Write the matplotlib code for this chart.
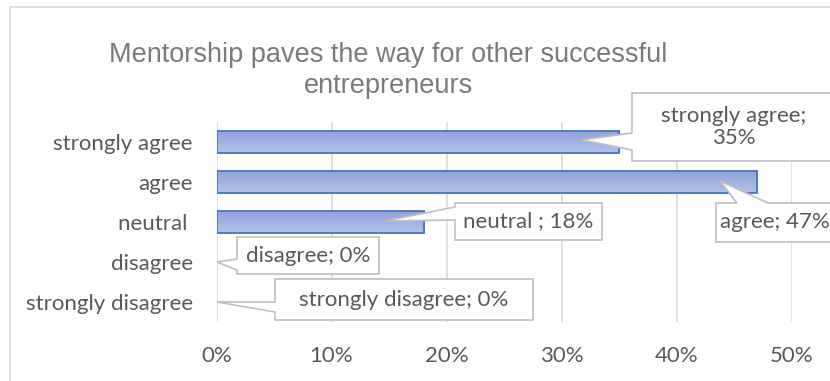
import matplotlib
matplotlib.use("Agg")
import matplotlib.pyplot as plt
import numpy as np
from matplotlib.patches import Polygon, Rectangle
from matplotlib.colors import LinearSegmentedColormap

# ---- data -------------------------------------------------------------
categories = ["strongly agree", "agree", "neutral ", "disagree", "strongly disagree"]
shares = [0.35, 0.47, 0.18, 0.0, 0.0]
x_ticks = [0.0, 0.1, 0.2, 0.3, 0.4, 0.5]
tick_labels = ["0%", "10%", "20%", "30%", "40%", "50%"]
title_lines = ["Mentorship paves the way for other successful", "entrepreneurs"]

# ---- canvas (pixel helpers, origin top-left) --------------------------
W, H, DPI = 830, 381, 100
fig = plt.figure(figsize=(W / DPI, H / DPI), dpi=DPI)
fig.patch.set_facecolor("white")


def fx(x):
    return x / W


def fy(y):
    return 1 - y / H


LABEL_FONT = "Lato"
TEXT_COLOR = "#595959"

# chart frame
fig.add_artist(Rectangle((fx(9.5), -0.5), 2, fy(6.5) + 0.5, fill=False,
                         ec="#d9d9d9", lw=1.2, transform=fig.transFigure))

# plot area
PL, PT, PR, PB = 216.5, 122, 791.5, 322
ax = fig.add_axes([fx(PL), fy(PB), (PR - PL) / W, (PB - PT) / H])

ypos = np.arange(len(categories))
bars = ax.barh(ypos, shares, height=0.53, facecolor="none",
               edgecolor="#4472c4", linewidth=1.3, zorder=3)

# soft vertical gradient inside each bar: lighter at the top edge
grad_cmap = LinearSegmentedColormap.from_list("bar_fill", ["#b3c2e8", "#8ea3d9"])
grad = np.linspace(0, 1, 64).reshape(-1, 1)
for bar, v in zip(bars, shares):
    if v <= 0:
        bar.set_edgecolor("none")
        continue
    x0, y0 = bar.get_x(), bar.get_y()
    w, h = bar.get_width(), bar.get_height()
    im = ax.imshow(grad, cmap=grad_cmap, extent=(x0, x0 + w, y0 + h, y0),
                   origin="lower", aspect="auto", interpolation="bilinear",
                   zorder=2)
    im.set_clip_path(bar)

ax.set_xlim(0, 0.5)
ax.set_ylim(len(categories) - 0.5, -0.5)
ax.set_xticks(x_ticks)
ax.set_xticklabels(tick_labels)
ax.set_yticks(ypos)
ax.set_yticklabels(categories)
ax.grid(axis="x", color="#d9d9d9", linewidth=1.1)
ax.set_axisbelow(True)
for s in ax.spines.values():
    s.set_visible(False)
ax.tick_params(axis="both", length=0, labelsize=16, labelcolor=TEXT_COLOR)
ax.tick_params(axis="y", pad=17)
ax.tick_params(axis="x", pad=17)
for lab in ax.get_xticklabels() + ax.get_yticklabels():
    lab.set_family(LABEL_FONT)

# title
for i, line in enumerate(title_lines):
    fig.text(fx(388), fy(62 + 31 * i), line, ha="center", va="baseline",
             fontsize=19.5, family="Liberation Sans", color="#7a7a7a")

# ---- callout data labels ---------------------------------------------
# box: (left, top, right, bottom) px; side where the pointer attaches;
# base: span of the pointer base along that side; tip: pointer tip px;
# tx: text centre x (None = box centre)
callouts = [
    dict(box=(632, 93, 836, 161), side="left", base=(133, 150), tip=(582, 140), wrap=True, tx=None),
    dict(box=(716, 203, 842, 242), side="top", base=(737, 768), tip=(720, 181), wrap=False, tx=775),
    dict(box=(455, 203, 602, 240), side="left", base=(207, 220), tip=(385, 221), wrap=False, tx=None),
    dict(box=(237, 237, 379, 274), side="left", base=(259, 270), tip=(217, 262), wrap=False, tx=None),
    dict(box=(275, 279, 533, 320), side="left", base=(302, 312), tip=(217, 302), wrap=False, tx=None),
]

for cat, v, c in zip(categories, shares, callouts):
    sep = "\n" if c["wrap"] else " "
    text = f"{cat};{sep}{v:.0%}"
    l, t, r, b = c["box"]
    a1, a2 = c["base"]
    tx, ty = c["tip"]
    if c["side"] == "left":
        pts = [(l, t), (r, t), (r, b), (l, b), (l, a2), (tx, ty), (l, a1)]
    else:
        pts = [(l, t), (a1, t), (tx, ty), (a2, t), (r, t), (r, b), (l, b)]
    poly = Polygon([(fx(x), fy(y)) for x, y in pts], closed=True,
                   facecolor="white", edgecolor="#bfbfbf", linewidth=1.2,
                   transform=fig.transFigure, zorder=4)
    fig.add_artist(poly)
    cx = c["tx"] if c["tx"] is not None else (l + r) / 2
    fig.text(fx(cx), fy((t + b) / 2), text, ha="center", va="center",
             ma="center", fontsize=16, family=LABEL_FONT, color=TEXT_COLOR,
             linespacing=1.15, zorder=5)

fig.savefig("out.png", dpi=DPI, facecolor="white")
